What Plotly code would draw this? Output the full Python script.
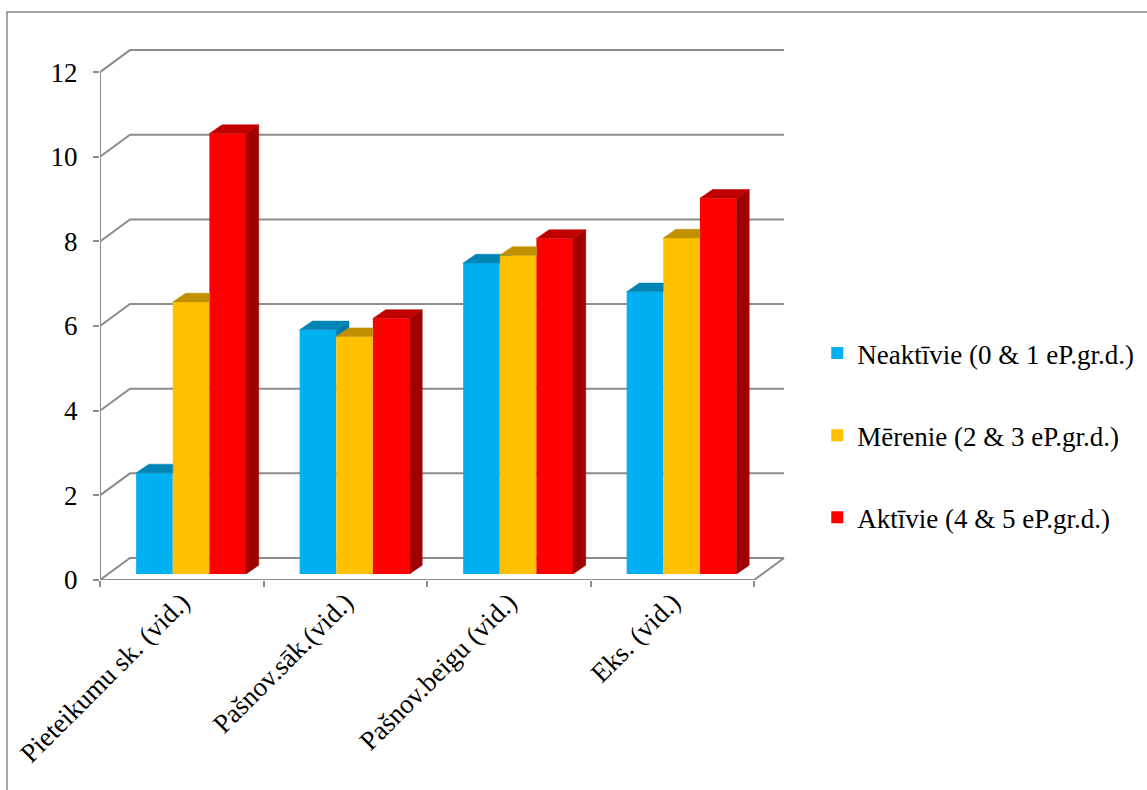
import plotly.graph_objects as go

# ---------------- data ----------------
categories = ["Pieteikumu sk. (vid.)", "Pašnov.sāk.(vid.)", "Pašnov.beigu (vid.)", "Eks. (vid.)"]
series_names = ["Neaktīvie (0 & 1 eP.gr.d.)", "Mērenie (2 & 3 eP.gr.d.)", "Aktīvie (4 & 5 eP.gr.d.)"]
neaktivie = [2.39, 5.77, 7.35, 6.67]
merenie = [6.43, 5.61, 7.53, 7.94]
aktivie = [10.41, 6.04, 7.93, 8.88]
y_ticks = [0, 2, 4, 6, 8, 10, 12]

# ---------------- styling ----------------
front_colors = ["#00B0F0", "#FFC000", "#FF0000"]
top_colors = ["#0085B5", "#C09000", "#C00000"]
side_colors = ["#007AA8", "#B08000", "#A00000"]
FONT = "Liberation Serif"
FS = 27
GRID = "#8C8C8C"

# geometry (axis units)
bar_w = 0.224
offsets = [-0.167, 0.057, 0.281]
dx, dy = 0.0777, 0.2055          # bar depth projection
wdx, wdy = 0.1835, 0.52          # wall depth projection

series = [neaktivie, merenie, aktivie]
xs = list(range(len(categories)))

fig = go.Figure()

# front faces (real bars)
for s, vals in enumerate(series):
    fig.add_trace(go.Bar(
        x=[i + offsets[s] for i in xs], y=vals, width=bar_w,
        name=series_names[s], legendgroup=series_names[s],
        marker=dict(color=front_colors[s], line=dict(width=0)),
        xaxis="x", yaxis="y",
    ))

def poly(px, py, color):
    fig.add_trace(go.Scatter(
        x=px + [px[0]], y=py + [py[0]], mode="lines", fill="toself",
        fillcolor=color, line=dict(color=color, width=0.5),
        hoverinfo="skip", showlegend=False, xaxis="x", yaxis="y",
    ))

# 3D top and side faces, derived from the values
for i in xs:
    for s, vals in enumerate(series):
        v = vals[i]
        xl = i + offsets[s] - bar_w / 2
        xr = i + offsets[s] + bar_w / 2
        vn = series[s + 1][i] if s + 1 < len(series) else None
        # side face
        if vn is None:
            poly([xr, xr, xr + dx, xr + dx], [0, v, v + dy, dy], side_colors[s])
        elif v > vn:
            poly([xr, xr, xr + dx, xr + dx], [vn, v, v + dy, vn + dy], side_colors[s])
        # top face (clipped by neighbour's front face)
        if vn is None or vn <= v:
            poly([xl, xr, xr + dx, xl + dx], [v, v, v + dy, v + dy], top_colors[s])
        elif vn >= v + dy:
            poly([xl, xr, xr, xl + dx], [v, v, v + dy, v + dy], top_colors[s])
        else:
            t = (vn - v) / dy
            poly([xl, xr, xr, xr + dx * t, xr + dx, xl + dx],
                 [v, v, vn, vn, v + dy, v + dy], top_colors[s])

# walls / gridlines / floor
shapes = []
x0, x1 = -0.5, len(categories) - 0.5
for v in y_ticks:
    shapes.append(dict(type="path", xref="x", yref="y2", layer="below",
                       path=f"M {x0},{v} L {x0 + wdx},{v + wdy} L {x1 + wdx},{v + wdy}",
                       line=dict(color=GRID, width=2)))
shapes.append(dict(type="path", xref="x", yref="y2", layer="below",
                   path=f"M {x0},0 L {x1},0 L {x1 + wdx},{wdy}",
                   line=dict(color=GRID, width=2)))
shapes.append(dict(type="line", xref="x", yref="y2", layer="below",
                   x0=x0, x1=x0, y0=0, y1=max(y_ticks),
                   line=dict(color=GRID, width=2)))
# outer chart border
shapes.append(dict(type="rect", xref="paper", yref="paper",
                   x0=-0.1348, x1=1.6, y0=-0.5, y1=1.0617,
                   line=dict(color="#888888", width=1.5)))

fig.update_layout(
    width=1147, height=790,
    margin=dict(l=100, r=357, t=45, b=210, autoexpand=False),
    paper_bgcolor="white", plot_bgcolor="rgba(0,0,0,0)",
    font=dict(family=FONT, size=FS, color="black"),
    barmode="overlay",
    shapes=shapes,
    showlegend=True,
    legend=dict(x=1.0395, xanchor="left", y=0.27, yanchor="middle",
                font=dict(family=FONT, size=FS, color="black"),
                tracegroupgap=44, bgcolor="rgba(0,0,0,0)"),
    xaxis=dict(range=[-0.5, 3.72], tickvals=xs, ticktext=categories,
               tickangle=-45, showgrid=False, zeroline=False, showline=False,
               ticks="", automargin=False,
               tickfont=dict(family=FONT, size=FS, color="black"),
               minor=dict(tickvals=[-0.5, 0.5, 1.5, 2.5, 3.5], ticks="outside",
                          ticklen=6, tickcolor=GRID, tickwidth=2, showgrid=False)),
    yaxis=dict(range=[-0.142, 12.50], visible=False, showgrid=False, zeroline=False),
    yaxis2=dict(range=[0, 12.64], overlaying="y", side="left", anchor="x",
                tickvals=y_ticks, showgrid=False, zeroline=False, showline=False,
                ticks="outside", ticklen=6, tickcolor=GRID, tickwidth=2, automargin=False,
                ticklabelstandoff=10,
                tickfont=dict(family=FONT, size=FS, color="black")),
)

fig.write_html("out.html", config={"displayModeBar": False},
               post_script="document.body.style.margin='0';document.body.style.overflow='hidden';")
